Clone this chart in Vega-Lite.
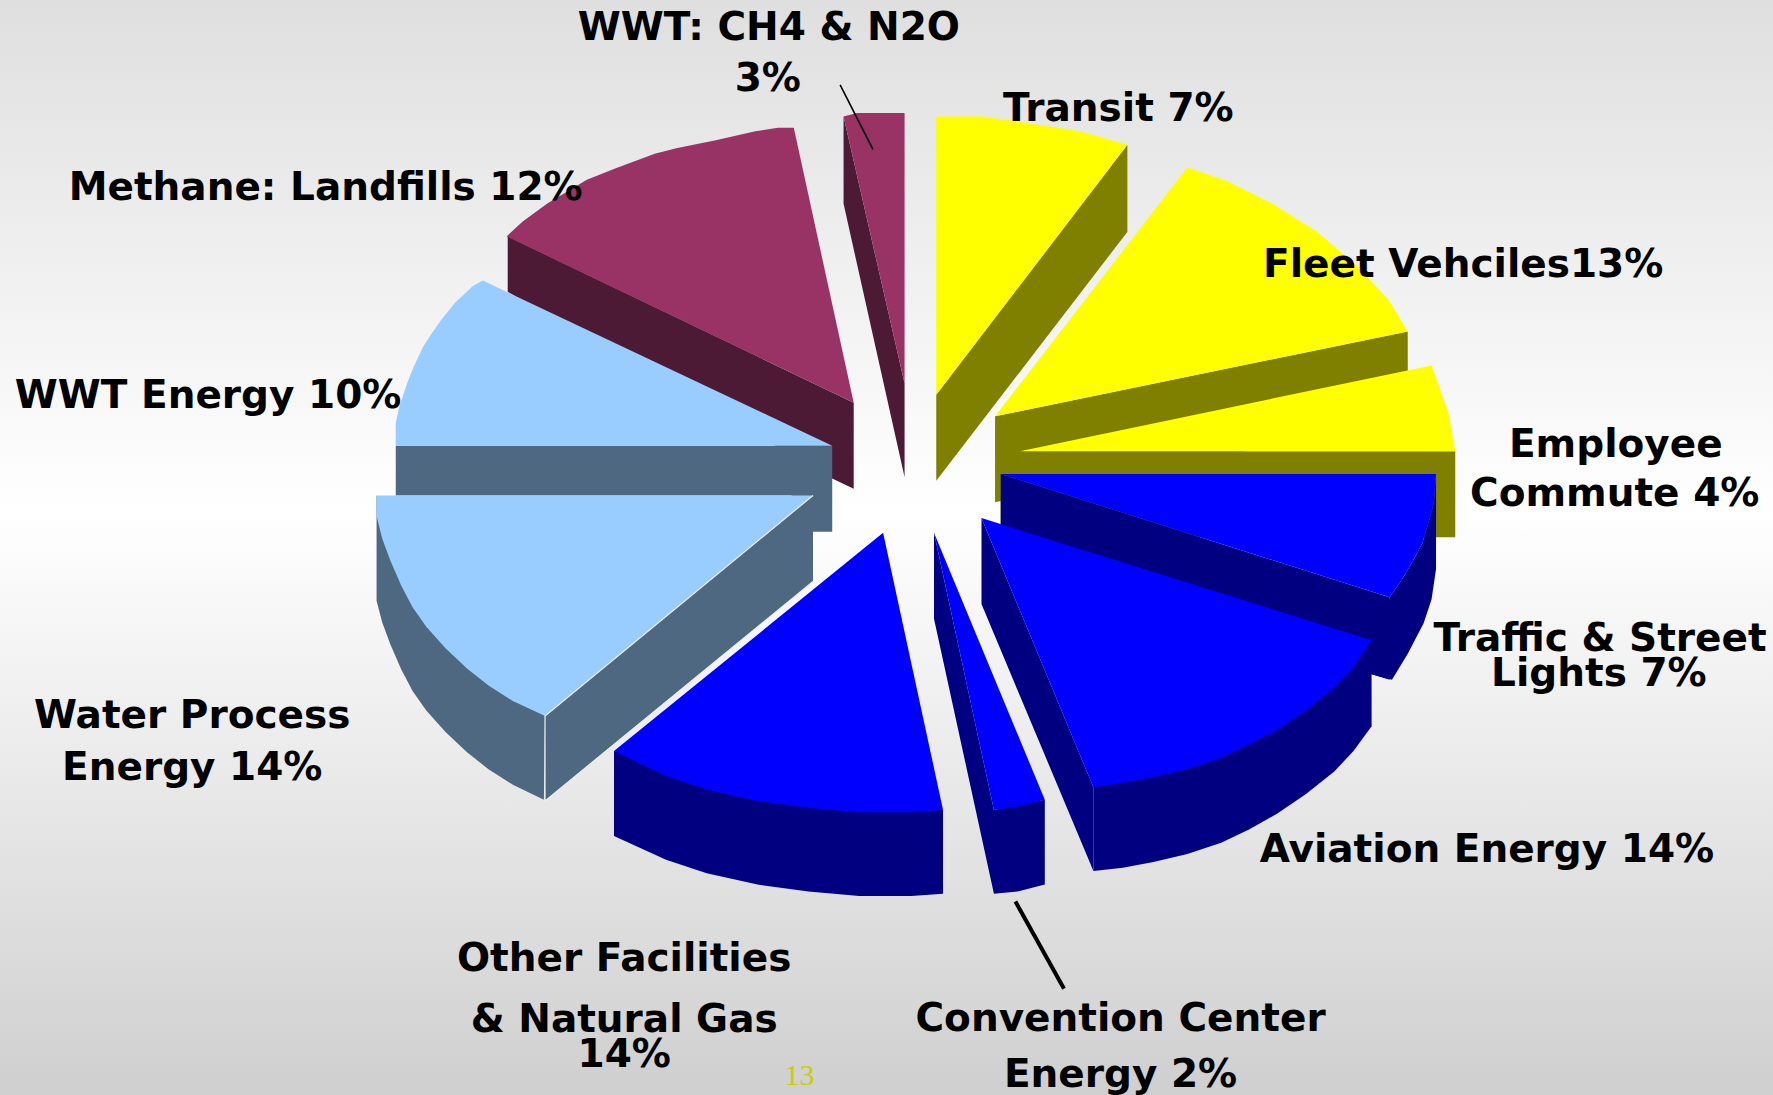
{"$schema":"https://vega.github.io/schema/vega-lite/v6.json","width":1773,"height":1095,"padding":0,"autosize":{"type":"fit","contains":"padding"},"background":"#ffffff","config":{"view":{"stroke":null}},
"datasets":{"shapes":[
{"s":"transit side","face":"oliveDark","i":1,"x":828,"y":349},{"s":"transit side","face":"oliveDark","i":2,"x":997,"y":128},{"s":"transit side","face":"oliveDark","i":3,"x":997,"y":205},{"s":"transit side","face":"oliveDark","i":4,"x":828,"y":425},
{"s":"transit top","face":"yellow","i":1,"x":828,"y":349},{"s":"transit top","face":"yellow","i":2,"x":828,"y":103},{"s":"transit top","face":"yellow","i":3,"x":870,"y":103},{"s":"transit top","face":"yellow","i":4,"x":910,"y":109},{"s":"transit top","face":"yellow","i":5,"x":955,"y":116},{"s":"transit top","face":"yellow","i":6,"x":997,"y":128},
{"s":"fleet side","face":"oliveDark","i":1,"x":880,"y":368},{"s":"fleet side","face":"oliveDark","i":2,"x":1245,"y":293},{"s":"fleet side","face":"oliveDark","i":3,"x":1245,"y":370},{"s":"fleet side","face":"oliveDark","i":4,"x":880,"y":444},
{"s":"fleet top","face":"yellow","i":1,"x":880,"y":368},{"s":"fleet top","face":"yellow","i":2,"x":1050,"y":148},{"s":"fleet top","face":"yellow","i":3,"x":1085,"y":160},{"s":"fleet top","face":"yellow","i":4,"x":1125,"y":180},{"s":"fleet top","face":"yellow","i":5,"x":1165,"y":205},{"s":"fleet top","face":"yellow","i":6,"x":1200,"y":235},{"s":"fleet top","face":"yellow","i":7,"x":1228,"y":265},{"s":"fleet top","face":"yellow","i":8,"x":1245,"y":293},
{"s":"commute side","face":"oliveDark","i":1,"x":885,"y":399},{"s":"commute side","face":"oliveDark","i":2,"x":1287,"y":399},{"s":"commute side","face":"oliveDark","i":3,"x":1287,"y":475},{"s":"commute side","face":"oliveDark","i":4,"x":885,"y":475},
{"s":"commute top","face":"yellow","i":1,"x":902,"y":399},{"s":"commute top","face":"yellow","i":2,"x":1266,"y":323},{"s":"commute top","face":"yellow","i":3,"x":1272,"y":340},{"s":"commute top","face":"yellow","i":4,"x":1281,"y":365},{"s":"commute top","face":"yellow","i":5,"x":1287,"y":399},
{"s":"traffic outer","face":"navy","i":1,"x":1229,"y":528},{"s":"traffic outer","face":"navy","i":2,"x":1240,"y":512},{"s":"traffic outer","face":"navy","i":3,"x":1250,"y":495},{"s":"traffic outer","face":"navy","i":4,"x":1258,"y":480},{"s":"traffic outer","face":"navy","i":5,"x":1264,"y":460},{"s":"traffic outer","face":"navy","i":6,"x":1268,"y":445},{"s":"traffic outer","face":"navy","i":7,"x":1270,"y":419},{"s":"traffic outer","face":"navy","i":8,"x":1270,"y":503},{"s":"traffic outer","face":"navy","i":9,"x":1266,"y":530},{"s":"traffic outer","face":"navy","i":10,"x":1259,"y":551},{"s":"traffic outer","face":"navy","i":11,"x":1245,"y":578},{"s":"traffic outer","face":"navy","i":12,"x":1231,"y":601},{"s":"traffic outer","face":"navy","i":13,"x":1213,"y":596},
{"s":"traffic side","face":"navy","i":1,"x":885,"y":419},{"s":"traffic side","face":"navy","i":2,"x":1229,"y":528},{"s":"traffic side","face":"navy","i":3,"x":1229,"y":601},{"s":"traffic side","face":"navy","i":4,"x":885,"y":495},
{"s":"traffic top","face":"blue","i":1,"x":885,"y":419},{"s":"traffic top","face":"blue","i":2,"x":1270,"y":419},{"s":"traffic top","face":"blue","i":3,"x":1268,"y":445},{"s":"traffic top","face":"blue","i":4,"x":1264,"y":460},{"s":"traffic top","face":"blue","i":5,"x":1258,"y":480},{"s":"traffic top","face":"blue","i":6,"x":1250,"y":495},{"s":"traffic top","face":"blue","i":7,"x":1240,"y":512},{"s":"traffic top","face":"blue","i":8,"x":1229,"y":528},
{"s":"aviation side","face":"navy","i":1,"x":868,"y":458},{"s":"aviation side","face":"navy","i":2,"x":967,"y":696},{"s":"aviation side","face":"navy","i":3,"x":967,"y":770},{"s":"aviation side","face":"navy","i":4,"x":868,"y":534},
{"s":"aviation outer","face":"navy","i":1,"x":967,"y":696},{"s":"aviation outer","face":"navy","i":2,"x":1213,"y":566},{"s":"aviation outer","face":"navy","i":3,"x":1213,"y":642},{"s":"aviation outer","face":"navy","i":4,"x":1197,"y":664},{"s":"aviation outer","face":"navy","i":5,"x":1180,"y":682},{"s":"aviation outer","face":"navy","i":6,"x":1155,"y":702},{"s":"aviation outer","face":"navy","i":7,"x":1130,"y":719},{"s":"aviation outer","face":"navy","i":8,"x":1105,"y":733},{"s":"aviation outer","face":"navy","i":9,"x":1080,"y":745},{"s":"aviation outer","face":"navy","i":10,"x":1050,"y":755},{"s":"aviation outer","face":"navy","i":11,"x":1020,"y":762},{"s":"aviation outer","face":"navy","i":12,"x":993,"y":767},{"s":"aviation outer","face":"navy","i":13,"x":967,"y":770},
{"s":"aviation top","face":"blue","i":1,"x":868,"y":458},{"s":"aviation top","face":"blue","i":2,"x":1213,"y":566},{"s":"aviation top","face":"blue","i":3,"x":1197,"y":590},{"s":"aviation top","face":"blue","i":4,"x":1180,"y":608},{"s":"aviation top","face":"blue","i":5,"x":1155,"y":628},{"s":"aviation top","face":"blue","i":6,"x":1130,"y":645},{"s":"aviation top","face":"blue","i":7,"x":1105,"y":658},{"s":"aviation top","face":"blue","i":8,"x":1080,"y":670},{"s":"aviation top","face":"blue","i":9,"x":1050,"y":680},{"s":"aviation top","face":"blue","i":10,"x":1020,"y":687},{"s":"aviation top","face":"blue","i":11,"x":993,"y":692},{"s":"aviation top","face":"blue","i":12,"x":967,"y":696},
{"s":"convention side","face":"navy","i":1,"x":826,"y":471},{"s":"convention side","face":"navy","i":2,"x":879,"y":716},{"s":"convention side","face":"navy","i":3,"x":924,"y":707},{"s":"convention side","face":"navy","i":4,"x":924,"y":782},{"s":"convention side","face":"navy","i":5,"x":900,"y":788},{"s":"convention side","face":"navy","i":6,"x":879,"y":790},{"s":"convention side","face":"navy","i":7,"x":826,"y":547},
{"s":"convention top","face":"blue","i":1,"x":826,"y":471},{"s":"convention top","face":"blue","i":2,"x":924,"y":707},{"s":"convention top","face":"blue","i":3,"x":900,"y":713},{"s":"convention top","face":"blue","i":4,"x":879,"y":716},
{"s":"other outer","face":"navy","i":1,"x":543,"y":664},{"s":"other outer","face":"navy","i":2,"x":834,"y":716},{"s":"other outer","face":"navy","i":3,"x":834,"y":790},{"s":"other outer","face":"navy","i":4,"x":806,"y":792},{"s":"other outer","face":"navy","i":5,"x":760,"y":792},{"s":"other outer","face":"navy","i":6,"x":715,"y":788},{"s":"other outer","face":"navy","i":7,"x":670,"y":782},{"s":"other outer","face":"navy","i":8,"x":625,"y":772},{"s":"other outer","face":"navy","i":9,"x":589,"y":760},{"s":"other outer","face":"navy","i":10,"x":543,"y":739},
{"s":"other top","face":"blue","i":1,"x":781,"y":471},{"s":"other top","face":"blue","i":2,"x":834,"y":716},{"s":"other top","face":"blue","i":3,"x":806,"y":718},{"s":"other top","face":"blue","i":4,"x":760,"y":718},{"s":"other top","face":"blue","i":5,"x":715,"y":714},{"s":"other top","face":"blue","i":6,"x":670,"y":708},{"s":"other top","face":"blue","i":7,"x":625,"y":698},{"s":"other top","face":"blue","i":8,"x":589,"y":686},{"s":"other top","face":"blue","i":9,"x":543,"y":664},
{"s":"landfill side","face":"plumDark","i":1,"x":449,"y":209},{"s":"landfill side","face":"plumDark","i":2,"x":755,"y":356},{"s":"landfill side","face":"plumDark","i":3,"x":755,"y":432},{"s":"landfill side","face":"plumDark","i":4,"x":736,"y":423},{"s":"landfill side","face":"plumDark","i":5,"x":449,"y":258},
{"s":"landfill top","face":"plum","i":1,"x":755,"y":356},{"s":"landfill top","face":"plum","i":2,"x":702,"y":113},{"s":"landfill top","face":"plum","i":3,"x":688,"y":113},{"s":"landfill top","face":"plum","i":4,"x":668,"y":116},{"s":"landfill top","face":"plum","i":5,"x":633,"y":124},{"s":"landfill top","face":"plum","i":6,"x":598,"y":131},{"s":"landfill top","face":"plum","i":7,"x":579,"y":136},{"s":"landfill top","face":"plum","i":8,"x":544,"y":149},{"s":"landfill top","face":"plum","i":9,"x":519,"y":159},{"s":"landfill top","face":"plum","i":10,"x":484,"y":180},{"s":"landfill top","face":"plum","i":11,"x":462,"y":196},{"s":"landfill top","face":"plum","i":12,"x":448,"y":209},
{"s":"wwtc side","face":"plumDark","i":1,"x":746,"y":103},{"s":"wwtc side","face":"plumDark","i":2,"x":800,"y":339},{"s":"wwtc side","face":"plumDark","i":3,"x":800,"y":422},{"s":"wwtc side","face":"plumDark","i":4,"x":746,"y":180},
{"s":"wwtc top","face":"plum","i":1,"x":800,"y":339},{"s":"wwtc top","face":"plum","i":2,"x":800,"y":100},{"s":"wwtc top","face":"plum","i":3,"x":758,"y":100},{"s":"wwtc top","face":"plum","i":4,"x":746,"y":103},
{"s":"wwte side","face":"slate","i":1,"x":350,"y":394},{"s":"wwte side","face":"slate","i":2,"x":736,"y":394},{"s":"wwte side","face":"slate","i":3,"x":736,"y":470},{"s":"wwte side","face":"slate","i":4,"x":700,"y":470},{"s":"wwte side","face":"slate","i":5,"x":700,"y":438},{"s":"wwte side","face":"slate","i":6,"x":350,"y":438},
{"s":"wwte top","face":"sky","i":1,"x":736,"y":394},{"s":"wwte top","face":"sky","i":2,"x":427,"y":248},{"s":"wwte top","face":"sky","i":3,"x":418,"y":253},{"s":"wwte top","face":"sky","i":4,"x":402,"y":268},{"s":"wwte top","face":"sky","i":5,"x":390,"y":283},{"s":"wwte top","face":"sky","i":6,"x":381,"y":296},{"s":"wwte top","face":"sky","i":7,"x":374,"y":307},{"s":"wwte top","face":"sky","i":8,"x":366,"y":324},{"s":"wwte top","face":"sky","i":9,"x":360,"y":339},{"s":"wwte top","face":"sky","i":10,"x":353,"y":360},{"s":"wwte top","face":"sky","i":11,"x":350,"y":374},{"s":"wwte top","face":"sky","i":12,"x":350,"y":394},
{"s":"water side","face":"slate","i":1,"x":719,"y":438},{"s":"water side","face":"slate","i":2,"x":719,"y":514},{"s":"water side","face":"slate","i":3,"x":482,"y":708},{"s":"water side","face":"slate","i":4,"x":482,"y":633},
{"s":"water outer","face":"slate","i":1,"x":333,"y":438},{"s":"water outer","face":"slate","i":2,"x":482,"y":633},{"s":"water outer","face":"slate","i":3,"x":481,"y":707},{"s":"water outer","face":"slate","i":4,"x":454,"y":694},{"s":"water outer","face":"slate","i":5,"x":432,"y":680},{"s":"water outer","face":"slate","i":6,"x":413,"y":665},{"s":"water outer","face":"slate","i":7,"x":394,"y":647},{"s":"water outer","face":"slate","i":8,"x":377,"y":628},{"s":"water outer","face":"slate","i":9,"x":365,"y":611},{"s":"water outer","face":"slate","i":10,"x":355,"y":592},{"s":"water outer","face":"slate","i":11,"x":345,"y":569},{"s":"water outer","face":"slate","i":12,"x":338,"y":550},{"s":"water outer","face":"slate","i":13,"x":333,"y":531},
{"s":"water top","face":"sky","i":1,"x":719,"y":438},{"s":"water top","face":"sky","i":2,"x":482,"y":633},{"s":"water top","face":"sky","i":3,"x":454,"y":620},{"s":"water top","face":"sky","i":4,"x":432,"y":606},{"s":"water top","face":"sky","i":5,"x":413,"y":591},{"s":"water top","face":"sky","i":6,"x":394,"y":573},{"s":"water top","face":"sky","i":7,"x":377,"y":554},{"s":"water top","face":"sky","i":8,"x":365,"y":537},{"s":"water top","face":"sky","i":9,"x":355,"y":518},{"s":"water top","face":"sky","i":10,"x":345,"y":495},{"s":"water top","face":"sky","i":11,"x":338,"y":476},{"s":"water top","face":"sky","i":12,"x":333,"y":456},{"s":"water top","face":"sky","i":13,"x":333,"y":438}
],
"edges":[
{"e":"a","i":1,"x":719,"y":438},{"e":"a","i":2,"x":482,"y":633},{"e":"a","i":3,"x":482,"y":708},{"e":"a","i":4,"x":719,"y":514}
],
"leaders":[
{"e":"thin","i":1,"x":743,"y":75},{"e":"thin","i":2,"x":772,"y":132},
{"e":"thick","i":1,"x":898,"y":797},{"e":"thick","i":2,"x":941,"y":874}
],
"labels":[
{"t":"WWT: CH4 & N2O","x":680,"y":25},{"t":"3%","x":679,"y":70},{"t":"Transit 7%","x":989,"y":96},{"t":"Fleet Vehciles13%","x":1294,"y":234},{"t":"Employee","x":1429,"y":393},{"t":"Commute 4%","x":1428,"y":437},{"t":"Traffic & Street","x":1415,"y":565},{"t":"Lights 7%","x":1414,"y":596},{"t":"Aviation Energy 14%","x":1315,"y":751},{"t":"Convention Center","x":991,"y":901},{"t":"Energy 2%","x":991,"y":950},{"t":"Other Facilities","x":552,"y":848},{"t":"& Natural Gas","x":552,"y":902},{"t":"14%","x":552,"y":933},{"t":"Water Process","x":170,"y":633},{"t":"Energy 14%","x":170,"y":679},{"t":"WWT Energy 10%","x":184,"y":350},{"t":"Methane: Landfills 12%","x":288,"y":166}
],
"page":[{"t":"13","x":707,"y":951}]},
"layer":[
{"data":{"values":[{"a":0}]},"mark":{"type":"rect","fill":{"gradient":"linear","x1":0,"y1":0,"x2":0,"y2":1,"stops":[{"offset":0,"color":"#dfdfdf"},{"offset":0.47,"color":"#ffffff"},{"offset":1,"color":"#cfcfcf"}]}},"encoding":{"x":{"datum":0,"type":"quantitative","scale":{"domain":[0,1568],"nice":false,"zero":false},"axis":null},"x2":{"datum":1568},"y":{"datum":0,"type":"quantitative","scale":{"domain":[968,0],"nice":false,"zero":false},"axis":null},"y2":{"datum":968}}},
{"data":{"name":"shapes"},"mark":{"type":"line","strokeWidth":0,"interpolate":"linear"},"encoding":{"x":{"field":"x","type":"quantitative","axis":null},"y":{"field":"y","type":"quantitative","axis":null},"order":{"field":"i"},"detail":{"field":"s"},"fill":{"field":"face","type":"nominal","legend":null,"scale":{"domain":["yellow","oliveDark","blue","navy","sky","slate","plum","plumDark"],"range":["#ffff00","#808000","#0000ff","#000080","#99ccff","#4f6882","#993366","#4d1a36"]}}}},
{"data":{"name":"edges"},"mark":{"type":"line","stroke":"#eeeeee","strokeWidth":1.2},"encoding":{"x":{"field":"x","type":"quantitative","axis":null},"y":{"field":"y","type":"quantitative","axis":null},"order":{"field":"i"},"detail":{"field":"e"}}},
{"data":{"name":"leaders"},"mark":{"type":"line","stroke":"#000000"},"encoding":{"x":{"field":"x","type":"quantitative","axis":null},"y":{"field":"y","type":"quantitative","axis":null},"order":{"field":"i"},"detail":{"field":"e"},"strokeWidth":{"field":"e","type":"nominal","legend":null,"scale":{"domain":["thin","thick"],"range":[1.6,4]}}}},
{"data":{"name":"labels"},"mark":{"type":"text","font":"DejaVu Sans","fontWeight":700,"fontSize":39,"color":"#000000","align":"center","baseline":"middle"},"encoding":{"x":{"field":"x","type":"quantitative","axis":null},"y":{"field":"y","type":"quantitative","axis":null},"text":{"field":"t"}}},
{"data":{"name":"page"},"mark":{"type":"text","font":"Liberation Serif","fontSize":30,"color":"#cccc00","align":"center","baseline":"middle"},"encoding":{"x":{"field":"x","type":"quantitative","axis":null},"y":{"field":"y","type":"quantitative","axis":null},"text":{"field":"t"}}}
]}
